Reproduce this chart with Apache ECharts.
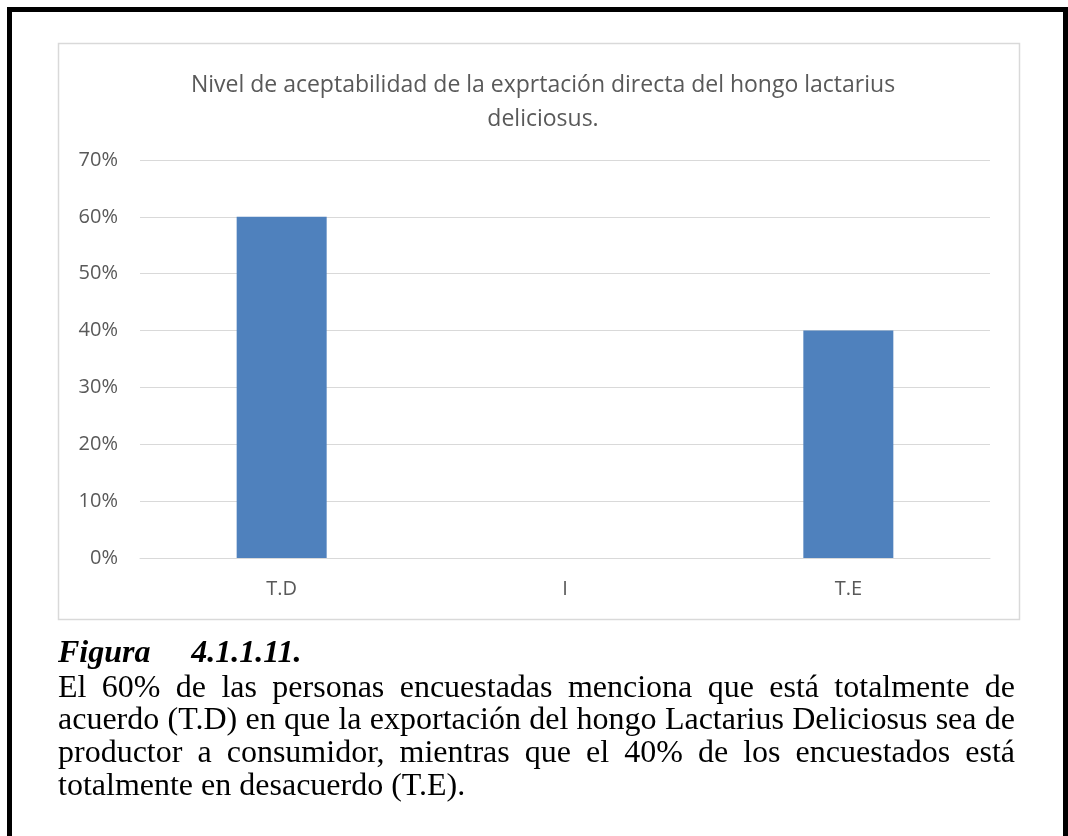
<!DOCTYPE html>
<html>
<head>
<meta charset="utf-8">
<script src="https://cdn.jsdelivr.net/npm/echarts@6/dist/echarts.min.js"></script>
<style>
  html, body { margin: 0; padding: 0; background: #fff; }
  #wrap { position: relative; width: 1068px; height: 836px; overflow: hidden; }
  #outer { position: absolute; left: 7px; top: 7px; width: 1061px; height: 840px; border: 5px solid #000; box-sizing: border-box; border-bottom: none; }
  #chart { position: absolute; left: 0; top: 0; width: 1068px; height: 836px; }
  #caption { position: absolute; left: 58px; top: 635px; width: 957px; font-family: "Liberation Serif", "Times New Roman", serif; font-size: 32px; line-height: 32.7px; color: #000; }
  #caption .fig { font-weight: bold; font-style: italic; white-space: pre; margin-bottom: 2px; word-spacing: 2.2px; }
  #caption p { margin: 0; text-align: justify; }
</style>
</head>
<body>
<div id="wrap">
  <div id="outer"></div>
  <div id="chart"></div>
  <div id="caption">
    <div class="fig">Figura    4.1.1.11.</div>
    <p>El 60% de las personas encuestadas menciona que está totalmente de acuerdo (T.D) en que la exportación del hongo Lactarius Deliciosus sea de productor a consumidor, mientras que el 40% de los encuestados está totalmente en desacuerdo (T.E).</p>
  </div>
</div>
<script>
const titleText = 'Nivel de aceptabilidad de la exprtación directa del hongo lactarius\ndeliciosus.';
const categories = ['T.D', 'I', 'T.E'];
const values = [0.60, 0, 0.40];

const chart = echarts.init(document.getElementById('chart'), null, { renderer: 'canvas' });
chart.setOption({
  animation: false,
  backgroundColor: 'transparent',
  title: {
    text: titleText,
    left: 538,
    textAlign: 'center',
    top: 63,
    textStyle: { fontFamily: 'Open Sans', fontSize: 23, fontWeight: 'normal', color: '#595959', lineHeight: 34 }
  },
  graphic: [{
    type: 'rect',
    shape: { x: 58.5, y: 43.5, width: 961, height: 576 },
    style: { fill: 'none', stroke: '#D9D9D9', lineWidth: 1.5 },
    silent: true
  }],
  grid: { left: 140, right: 78, top: 160, bottom: 278 },
  xAxis: {
    type: 'category',
    data: categories,
    axisLine: { lineStyle: { color: '#D9D9D9', width: 1 } },
    axisTick: { show: false },
    axisLabel: { color: '#595959', fontFamily: 'Open Sans', fontSize: 20, margin: 21 }
  },
  yAxis: {
    type: 'value',
    min: 0, max: 0.7, interval: 0.1,
    axisLine: { show: false },
    axisTick: { show: false },
    splitLine: { lineStyle: { color: '#D9D9D9', width: 1 } },
    axisLabel: {
      color: '#595959', fontFamily: 'Open Sans', fontSize: 20, margin: 22,
      formatter: v => Math.round(v * 100) + '%'
    }
  },
  series: [{
    type: 'bar',
    data: values,
    barWidth: 90,
    itemStyle: { color: '#4F81BD' }
  }]
});
</script>
</body>
</html>
